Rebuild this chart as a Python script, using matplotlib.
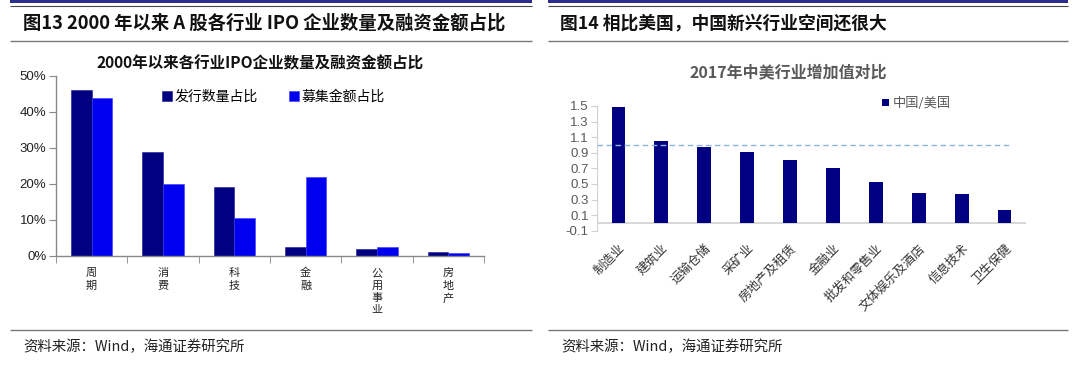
import matplotlib
matplotlib.use("Agg")
import matplotlib.pyplot as plt
from matplotlib.lines import Line2D
from matplotlib.patches import Rectangle
import numpy as np

plt.rcParams['font.family'] = ['Noto Sans CJK SC', 'DejaVu Sans']

# ---- data: left chart ----
left_categories = ['周期', '消费', '科技', '金融', '公用事业', '房地产']
count_share = [46.2, 28.7, 19.0, 2.3, 1.8, 1.0]      # 发行数量占比 (%)
amount_share = [43.9, 19.8, 10.5, 21.8, 2.3, 0.7]    # 募集金额占比 (%)
left_yticks = [0, 10, 20, 30, 40, 50]

# ---- data: right chart ----
right_categories = ['制造业', '建筑业', '运输仓储', '采矿业', '房地产及租赁',
                    '金融业', '批发和零售业', '文体娱乐及酒店', '信息技术', '卫生保健']
cn_us_ratio = [1.49, 1.05, 0.97, 0.91, 0.81, 0.70, 0.53, 0.38, 0.37, 0.16]
ref_value = 1.0
right_yticks = [-0.1, 0.1, 0.3, 0.5, 0.7, 0.9, 1.1, 1.3, 1.5]

W, H = 1080, 366
fig = plt.figure(figsize=(W / 100, H / 100), dpi=100)

def fx(px):
    return px / W

def fy(py):
    return 1 - py / H

def hline(x0, x1, y, color, lw):
    fig.add_artist(Line2D([fx(x0), fx(x1)], [fy(y), fy(y)], transform=fig.transFigure,
                          color=color, lw=lw, solid_capstyle='butt'))

# header bands and separator lines
for (x0, x1) in [(10, 532), (548, 1068)]:
    fig.add_artist(Rectangle((fx(x0), fy(3)), fx(x1) - fx(x0), 3 / H, transform=fig.transFigure,
                             facecolor='#2e2e8c', edgecolor='none'))
    hline(x0, x1, 5.5, '#444444', 0.8)
    hline(x0, x1, 41, '#777777', 1.0)
    hline(x0, x1, 330, '#777777', 1.0)

fig.text(fx(23), fy(23), '图13 2000 年以来 A 股各行业 IPO 企业数量及融资金额占比',
         fontsize=13.2, fontweight='bold', ha='left', va='center', color='#111111')
fig.text(fx(560), fy(23), '图14 相比美国，中国新兴行业空间还很大',
         fontsize=12.8, fontweight='bold', ha='left', va='center', color='#111111')
fig.text(fx(23), fy(347), '资料来源：Wind，海通证券研究所', fontsize=10.4,
         ha='left', va='center', color='#222222')
fig.text(fx(561), fy(347), '资料来源：Wind，海通证券研究所', fontsize=10.4,
         ha='left', va='center', color='#222222')

# ---------------- left chart ----------------
axL = fig.add_axes([fx(56), fy(255.5), fx(484) - fx(56), (255.5 - 76) / H])
x = np.arange(len(left_categories))
bw = 0.29
axL.bar(x - bw / 2, count_share, bw, color='#000080', label='发行数量占比', edgecolor='#1a1a9a', lw=0.4)
axL.bar(x + bw / 2, amount_share, bw, color='#0000f0', label='募集金额占比', edgecolor='#3a3aff', lw=0.4)
axL.set_xlim(-0.5, len(left_categories) - 0.5)
axL.set_ylim(0, 50)
axL.set_yticks(left_yticks)
axL.set_yticklabels([f'{v}%' for v in left_yticks], fontsize=9.5, color='#222222',
                    family=['Liberation Sans', 'DejaVu Sans'])
axL.set_xticks(x)
axL.set_xticklabels(['\n'.join(c) for c in left_categories], fontsize=8, color='#222222',
                    linespacing=1.3, va='top')
axL.set_xticks(np.arange(len(left_categories) + 1) - 0.5, minor=True)
axL.tick_params(axis='x', which='major', length=0, pad=9)
axL.tick_params(axis='x', which='minor', length=5, color='#888888', direction='out')
axL.tick_params(axis='y', length=5, color='#888888', direction='out', pad=2)
for s in ['top', 'right']:
    axL.spines[s].set_visible(False)
for s in ['left', 'bottom']:
    axL.spines[s].set_color('#888888')
    axL.spines[s].set_linewidth(1.0)
fig.text(fx(260), fy(63), '2000年以来各行业IPO企业数量及融资金额占比', fontsize=11.2,
         fontweight='bold', ha='center', va='center', color='#111111')
axL.legend(loc='upper left', bbox_to_anchor=(fx(162), fy(90)), bbox_transform=fig.transFigure,
           ncol=2, frameon=False, fontsize=10, handlelength=0.72, handleheight=0.72,
           handletextpad=0.2, columnspacing=2.2, borderpad=0, borderaxespad=0)

# ---------------- right chart ----------------
axR = fig.add_axes([fx(597), fy(230.7), fx(1026) - fx(597), (230.7 - 106) / H])
xr = np.arange(len(right_categories))
axR.bar(xr, cn_us_ratio, 0.32, color='#000080', label='中国/美国')
axR.set_xlim(-0.5, len(right_categories) - 0.5)
axR.set_ylim(-0.1, 1.5)
axR.set_yticks(right_yticks)
axR.set_yticklabels([f'{v:.1f}' for v in right_yticks], fontsize=9.5, color='#595959',
                    family=['Liberation Sans', 'DejaVu Sans'])
axR.axhline(0, color='#d0d0d0', lw=1.2, zorder=0)
axR.axhline(ref_value, xmin=0, xmax=(1012 - 597) / (1026 - 597), color='#8fb4dc',
            lw=1.0, ls=(0, (4, 2.5)), zorder=1)
axR.set_xticks(xr)
axR.set_xticklabels(right_categories, rotation=45, ha='right', rotation_mode='anchor',
                    fontsize=9, color='#333333')
axR.tick_params(axis='x', length=0, pad=8)
axR.tick_params(axis='y', length=4, color='#d0d0d0', direction='out', pad=2)
for s in ['top', 'right', 'bottom']:
    axR.spines[s].set_visible(False)
axR.spines['left'].set_color('#d0d0d0')
fig.text(fx(788), fy(72), '2017年中美行业增加值对比', fontsize=11.5, fontweight='bold',
         ha='center', va='center', color='#595959')
axR.legend(loc='upper left', bbox_to_anchor=(fx(882), fy(97)), bbox_transform=fig.transFigure,
           frameon=False, fontsize=9.5, handlelength=0.5, handleheight=0.5,
           handletextpad=0.3, borderpad=0, borderaxespad=0, labelcolor='#595959')

fig.savefig('out.png', dpi=100)
